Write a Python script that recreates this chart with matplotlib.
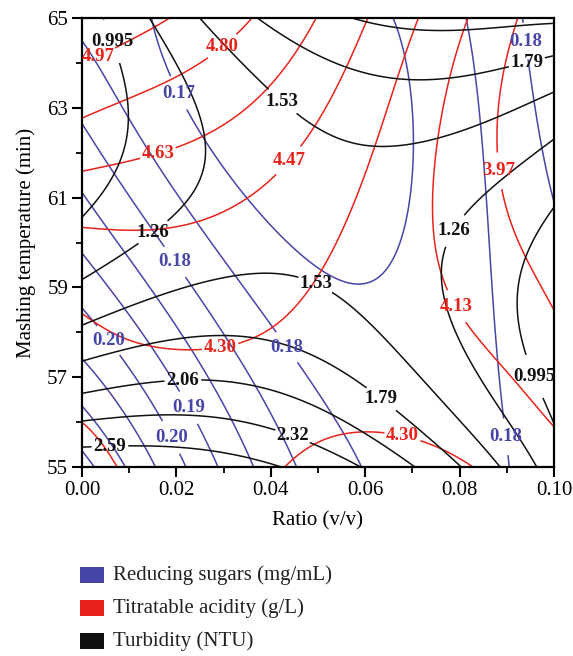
import numpy as np
import matplotlib
matplotlib.use("Agg")
import matplotlib.pyplot as plt
from matplotlib.patches import Rectangle

# ---------------- data ----------------
ratio_grid = [0.00, 0.02, 0.04, 0.06, 0.08, 0.10]
temp_grid = [55, 57, 59, 61, 63, 65]

# rows follow temp_grid, columns follow ratio_grid
turbidity = [
    [2.80, 2.78, 2.60, 2.31, 1.79, 1.12],
    [1.95, 2.03, 1.98, 1.77, 1.36, 0.92],
    [1.29, 1.54, 1.58, 1.45, 1.20, 0.85],
    [0.90, 1.21, 1.38, 1.42, 1.30, 1.00],
    [0.84, 1.20, 1.49, 1.68, 1.64, 1.46],
    [0.86, 1.41, 1.83, 2.08, 2.13, 2.10],
]
acidity = [
    [4.40, 4.25, 4.29, 4.34, 4.31, 4.20],
    [4.25, 4.26, 4.27, 4.27, 4.20, 4.06],
    [4.35, 4.38, 4.35, 4.22, 4.11, 3.94],
    [4.56, 4.53, 4.45, 4.27, 4.07, 3.88],
    [4.82, 4.71, 4.58, 4.38, 4.08, 3.86],
    [5.12, 4.97, 4.74, 4.49, 4.15, 3.87],
]
sugars = [
    [0.2120, 0.1965, 0.1833, 0.1755, 0.1740, 0.1775],
    [0.2035, 0.1920, 0.1780, 0.1730, 0.1735, 0.1780],
    [0.1927, 0.1803, 0.1730, 0.1716, 0.1738, 0.1790],
    [0.1854, 0.1760, 0.1700, 0.1680, 0.1733, 0.1805],
    [0.1805, 0.1715, 0.1675, 0.1675, 0.1745, 0.1822],
    [0.1740, 0.1690, 0.1675, 0.1690, 0.1750, 0.1835],
]

turbidity_levels = [0.995, 1.26, 1.53, 1.79, 2.06, 2.32, 2.59]
acidity_levels = [3.97, 4.13, 4.30, 4.47, 4.63, 4.80, 4.97]
sugar_levels = [0.1705, 0.1755, 0.1805, 0.1855, 0.1905, 0.1955, 0.2005, 0.2055, 0.2105]

legend_labels = ["Reducing sugars (mg/mL)", "Titratable acidity (g/L)", "Turbidity (NTU)"]

BLUE = "#4646a8"
RED = "#e8231b"
BLACK = "#111111"
SERIF = "Liberation Serif"

# ---------------- response surfaces (least-squares polynomial fit) ----------------
rx = np.array(ratio_grid, float)
ty = np.array(temp_grid, float)
U, V = np.meshgrid((rx - rx.min()) / np.ptp(rx), (ty - ty.min()) / np.ptp(ty))
DEG_U, DEG_V = 4, 3


def basis(u, v):
    return np.stack([u ** i * v ** j for i in range(DEG_U + 1) for j in range(DEG_V + 1)], axis=-1)


xf = np.linspace(rx.min(), rx.max(), 300)
yf = np.linspace(ty.min(), ty.max(), 300)
XF, YF = np.meshgrid(xf, yf)
A_fit = basis(U.ravel(), V.ravel())
A_eval = basis((XF - rx.min()) / np.ptp(rx), (YF - ty.min()) / np.ptp(ty))


def surface(values):
    coef, *_ = np.linalg.lstsq(A_fit, np.asarray(values, float).ravel(), rcond=None)
    return A_eval @ coef


Z_turb = surface(turbidity)
Z_acid = surface(acidity)
Z_sug = surface(sugars)

# ---------------- figure ----------------
plt.rcParams["font.family"] = [SERIF, "DejaVu Serif"]
fig = plt.figure(figsize=(5.73, 6.56), dpi=100)
ax = fig.add_axes([0.1431, 0.288, 0.8237, 0.6845])

cs_s = ax.contour(XF, YF, Z_sug, levels=sugar_levels, colors=BLUE, linewidths=1.1)
cs_a = ax.contour(XF, YF, Z_acid, levels=acidity_levels, colors=RED, linewidths=1.1)
cs_t = ax.contour(XF, YF, Z_turb, levels=turbidity_levels, colors=BLACK, linewidths=1.1)

lab_t = [(0.0070, 64.51), (0.0155, 60.17), (0.0403, 62.88), (0.0945, 63.91), (0.0780, 60.32),
         (0.0496, 59.10), (0.0949, 56.98), (0.0214, 56.87), (0.0636, 56.54), (0.0447, 55.71),
         (0.0059, 55.53)]
lab_a = [(0.0040, 64.05), (0.0299, 64.35), (0.0159, 62.06), (0.0424, 61.95), (0.0896, 61.61),
         (0.0780, 58.50), (0.0292, 57.72), (0.0674, 55.45)]
lab_s = [(0.0208, 63.35), (0.0197, 59.57), (0.0066, 57.90), (0.0239, 56.40), (0.0441, 57.72),
         (0.0165, 55.53), (0.0928, 64.47), (0.0896, 55.67)]

with plt.rc_context({"font.weight": "bold"}):
    for cs, pos, fmt, col in [(cs_s, lab_s, "%.2f", BLUE), (cs_a, lab_a, "%.2f", RED),
                              (cs_t, lab_t, "%.3g", BLACK)]:
        texts = ax.clabel(cs, manual=pos, fmt=fmt, fontsize=13.5, inline=True,
                          inline_spacing=2, colors=col)
        for t in texts:
            t.set_rotation(0)
            t.set_fontweight("bold")

ax.set_xlim(0, 0.1)
ax.set_ylim(55, 65)
ax.set_xticks(np.arange(0, 0.1001, 0.02))
ax.set_xticks(np.arange(0.01, 0.1, 0.02), minor=True)
ax.set_yticks(np.arange(55, 65.1, 2))
ax.set_yticks(np.arange(56, 65, 2), minor=True)
ax.set_xticklabels([f"{v:.2f}" for v in np.arange(0, 0.1001, 0.02)])
ax.tick_params(which="major", direction="out", length=7, width=1.5, labelsize=15, pad=3)
ax.tick_params(which="minor", direction="out", length=4, width=1.3)
for s in ax.spines.values():
    s.set_linewidth(1.6)
ax.set_xlabel("Ratio (v/v)", fontsize=15, labelpad=8)
ax.set_ylabel("Mashing temperature (min)", fontsize=15, labelpad=8)

# legend drawn as figure patches and text
W, H = 573.0, 656.0
for i, (lab, col) in enumerate(zip(legend_labels, [BLUE, RED, BLACK])):
    yc = 575 + 33 * i
    fig.add_artist(Rectangle((80 / W, 1 - (yc + 8) / H), 24 / W, 16 / H, transform=fig.transFigure,
                             facecolor=col, edgecolor="none"))
    fig.text(113 / W, 1 - yc / H, lab, fontsize=15, va="center", ha="left", color="#222222")

fig.savefig("out.png", dpi=100)
